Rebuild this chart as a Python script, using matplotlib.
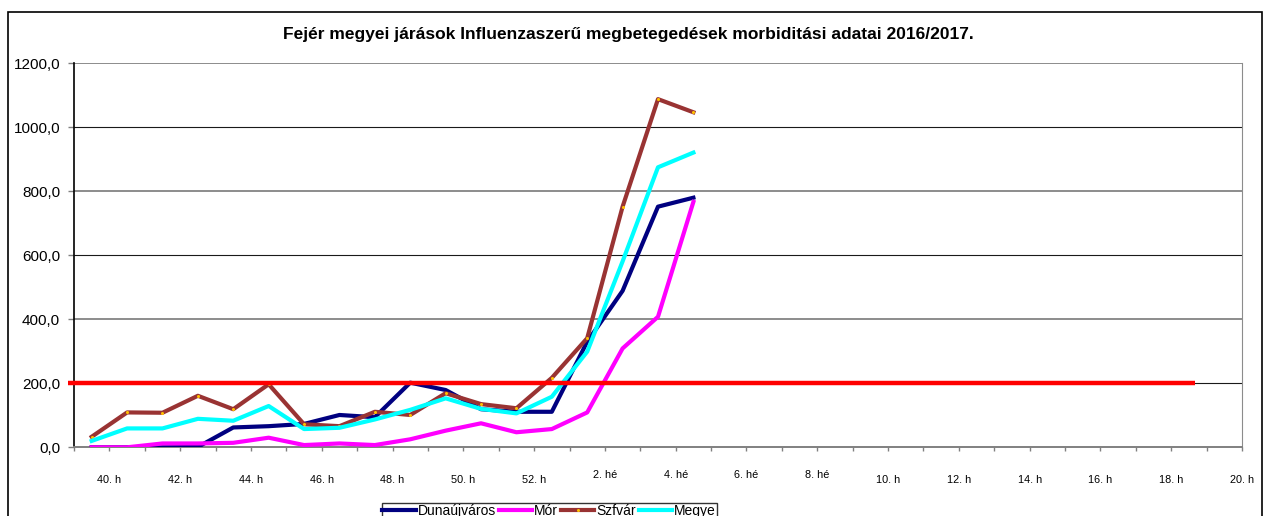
import matplotlib
matplotlib.use("Agg")
import matplotlib.pyplot as plt
import matplotlib.transforms as mtransforms
from matplotlib.patches import Rectangle
from matplotlib.ticker import FuncFormatter

plt.rcParams['font.family'] = ['Liberation Sans', 'DejaVu Sans']

# weeks of the 2016/2017 season (category axis)
weeks = [40, 41, 42, 43, 44, 45, 46, 47, 48, 49, 50, 51, 52,
         1, 2, 3, 4, 5, 6, 7, 8, 9, 10, 11, 12, 13, 14, 15, 16, 17, 18, 19, 20]

# morbidity values (weeks 40 .. 5)
dunaujvaros = [0, 0, 0, 1, 62, 66, 73, 101, 94, 202, 179, 119, 111, 111, 330, 489, 752, 780]
mor = [0, 0, 12, 12, 14, 30, 7, 12, 7, 25, 52, 75, 47, 57, 109, 309, 408, 767]
szfvar = [33, 109, 108, 161, 119, 197, 72, 66, 111, 101, 169, 135, 122, 217, 341, 752, 1088, 1047]
megye = [20, 59, 59, 89, 83, 129, 57, 61, 87, 117, 153, 120, 106, 158, 299, 581, 875, 921]

threshold = 200
yticks = [0, 200, 400, 600, 800, 1000, 1200]

title = "Fejér megyei járások Influenzaszerű megbetegedések morbiditási adatai 2016/2017."

fig = plt.figure(figsize=(12.7, 5.16), dpi=100)
ax = fig.add_axes([74 / 1270, 1 - 447.3 / 516, (1242 - 74) / 1270, (447.3 - 63.3) / 516])

# outer chart border
fig.patches.append(Rectangle((8 / 1270, -0.02), (1262 - 8) / 1270, 1 - 12 / 516 + 0.02,
                             transform=fig.transFigure, fill=False, ec='black', lw=1.2))

# gridlines, alternating grey / dark like the original
for v in yticks[1:]:
    if (v // 200) % 2 == 0:
        ax.axhline(v, color='#8c8c8c', lw=1.4, zorder=1)
    else:
        ax.axhline(v, color='#1a1a1a', lw=0.8, zorder=1)

x = list(range(len(dunaujvaros)))
ax.plot(x, dunaujvaros, color='#000080', lw=3, label='Dunaújváros', zorder=3)
ax.plot(x, mor, color='#FF00FF', lw=3, label='Mór', zorder=3)
ax.plot(x, szfvar, color='#993333', lw=3, label='Szfvár', zorder=3,
        marker='o', ms=2.2, mfc='#FFC000', mec='none')
ax.plot(x, megye, color='#00FFFF', lw=3, label='Megye', zorder=3)

# epidemic threshold line
trans = mtransforms.blended_transform_factory(ax.transAxes, ax.transData)
ax.plot([-0.005, (1195 - 74) / (1242 - 74)], [threshold, threshold], color='#FF0000',
        lw=3.2, transform=trans, clip_on=False, zorder=4, solid_capstyle='butt')

ax.set_xlim(-0.5, len(weeks) - 0.5)
ax.set_ylim(0, 1200)

# ticks at category boundaries, labels on every second one
bounds = [i - 0.5 for i in range(len(weeks) + 1)]
labels = []
for i in range(len(bounds)):
    j = i - 1
    if 0 <= j < len(weeks) and j % 2 == 0:
        w = weeks[j]
        labels.append(f"{w}. h" if w >= 10 else f"{w}. hé")
    else:
        labels.append("")
ax.set_xticks(bounds)
ax.set_xticklabels(labels)
ax.tick_params(axis='x', direction='out', length=3, width=1, color='#808080',
               labelsize=7.8, pad=17)

ax.set_yticks(yticks)
ax.yaxis.set_major_formatter(FuncFormatter(lambda v, p: f"{v:.1f}".replace('.', ',')))
ax.tick_params(axis='y', direction='out', length=4, width=1, color='#808080',
               labelsize=11, pad=6)

# the single digit week labels sit a little higher
for i, lab in enumerate(ax.get_xticklabels()):
    if lab.get_text().endswith('hé'):
        lab.set_transform(lab.get_transform() +
                          mtransforms.ScaledTranslation(0, 5 / 100, fig.dpi_scale_trans))

ax.spines['top'].set_visible(False)
ax.spines['right'].set_color('#8c8c8c')
ax.spines['bottom'].set_color('#808080')
ax.spines['bottom'].set_linewidth(1.4)
ax.spines['left'].set_color('black')
ax.spines['left'].set_linewidth(1.2)

fig.text(628 / 1270, 1 - 39 / 516, title, ha='center', va='baseline',
         fontsize=12.5, fontweight='bold')

leg = fig.legend(loc='upper left', bbox_to_anchor=(381.7 / 1270, 1 - 503.3 / 516),
                 ncol=4, fontsize=10, frameon=True, fancybox=False, borderpad=0.05,
                 handlelength=2.4, handletextpad=0.15, columnspacing=0.2,
                 borderaxespad=0)
leg.get_frame().set_edgecolor('black')
leg.get_frame().set_linewidth(1)

fig.savefig('out.png', dpi=100)
